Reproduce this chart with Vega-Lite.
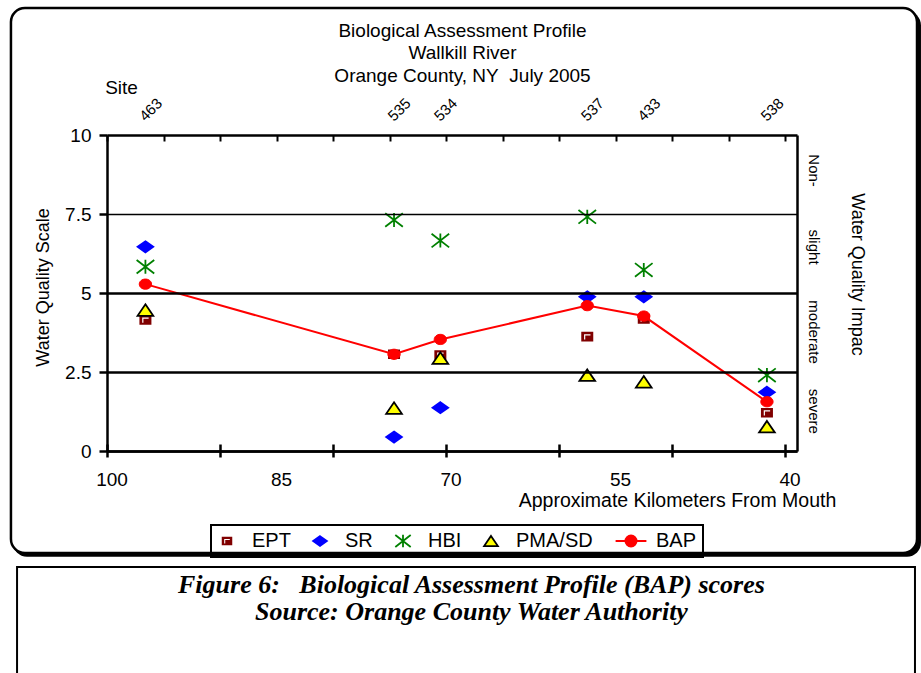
{
  "$schema": "https://vega.github.io/schema/vega-lite/v6.json",
  "width": 690,
  "height": 316,
  "autosize": {"type": "none"},
  "padding": {"left": 107, "top": 135, "right": 124, "bottom": 222},
  "background": "white",
  "config": {
    "font": "Liberation Sans",
    "view": {"stroke": null},
    "legend": {"strokeWidth": 2}
  },
  "datasets": {
    "sites": [
      {"site": "463", "km": 96.6, "EPT": 4.15, "SR": 6.46, "HBI": 5.83, "PMA/SD": 4.46, "BAP": 5.28},
      {"site": "535", "km": 74.6, "EPT": 3.06, "SR": 0.44, "HBI": 7.31, "PMA/SD": 1.36, "BAP": 3.06},
      {"site": "534", "km": 70.5, "EPT": 3.04, "SR": 1.37, "HBI": 6.66, "PMA/SD": 2.94, "BAP": 3.53},
      {"site": "537", "km": 57.5, "EPT": 3.62, "SR": 4.88, "HBI": 7.41, "PMA/SD": 2.40, "BAP": 4.60},
      {"site": "433", "km": 52.5, "EPT": 4.18, "SR": 4.88, "HBI": 5.73, "PMA/SD": 2.19, "BAP": 4.27},
      {"site": "538", "km": 41.6, "EPT": 1.21, "SR": 1.86, "HBI": 2.40, "PMA/SD": 0.77, "BAP": 1.56}
    ]
  },
  "resolve": {"axis": {"x": "independent", "y": "independent"}},
  "layer": [
    {
      "data": {"values": [{}]},
      "mark": {"type": "rect", "fill": "black", "cornerRadius": 14},
      "encoding": {
        "x": {"datum": 108.32, "type": "quantitative", "axis": null},
        "x2": {"datum": 27.97},
        "y": {"datum": 13.92, "type": "quantitative", "axis": null},
        "y2": {"datum": -3.35}
      }
    },
    {
      "data": {"values": [{}]},
      "mark": {"type": "rect", "fill": "white", "stroke": "black", "strokeWidth": 2.5, "cornerRadius": 14},
      "encoding": {
        "x": {"datum": 108.5, "type": "quantitative", "axis": null},
        "x2": {"datum": 28.32},
        "y": {"datum": 14.02, "type": "quantitative", "axis": null},
        "y2": {"datum": -3.23}
      }
    },
    {
      "data": {"values": [{}]},
      "mark": {"type": "rect", "fill": "white", "stroke": "black", "strokeWidth": 2},
      "encoding": {
        "x": {"datum": 107.96, "type": "quantitative", "axis": null},
        "x2": {"datum": 28.5},
        "y": {"datum": -3.67, "type": "quantitative", "axis": null},
        "y2": {"datum": -7.4}
      }
    },
    {
      "data": {"values": [{"t": "Biological Assessment Profile\nWallkill River\nOrange County, NY\u00a0 July 2005"}]},
      "mark": {"type": "text", "align": "center", "baseline": "alphabetic", "fontSize": 19, "lineHeight": 22.7, "lineBreak": "\n", "color": "black"},
      "encoding": {
        "x": {"datum": 68.54, "type": "quantitative", "axis": null},
        "y": {"datum": 13.11, "type": "quantitative", "axis": null},
        "text": {"field": "t"}
      }
    },
    {
      "data": {"values": [{"c": "Figure 6:\u00a0\u00a0 Biological Assessment Profile (BAP) scores\nSource: Orange County Water Authority"}]},
      "mark": {"type": "text", "align": "center", "baseline": "alphabetic", "font": "Liberation Serif", "fontSize": 26, "fontWeight": "bold", "fontStyle": "italic", "lineHeight": 27, "lineBreak": "\n", "color": "black"},
      "encoding": {
        "x": {"datum": 67.75, "type": "quantitative", "axis": null},
        "y": {"datum": -4.494, "type": "quantitative", "axis": null},
        "text": {"field": "c"}
      }
    },
    {
      "data": {"name": "sites"},
      "mark": {"type": "text", "align": "left", "baseline": "alphabetic", "angle": 315, "fontSize": 15, "color": "black"},
      "encoding": {
        "x": {
          "field": "km", "type": "quantitative",
          "axis": {
            "orient": "top", "values": [100, 95, 90, 85, 80, 75, 70, 65, 60, 55, 50, 45, 40],
            "labels": false, "domain": false, "grid": false, "ticks": true, "tickSize": 6, "tickWidth": 2, "tickColor": "black",
            "offset": -6, "zindex": 1,
            "title": "Site", "titleFont": "Liberation Sans", "titleFontSize": 19, "titleFontWeight": "normal", "titleColor": "black",
            "titleX": 14, "titleY": -54, "titleAlign": "center", "titleBaseline": "middle", "titleAngle": 0
          }
        },
        "y": {"datum": 10.41, "type": "quantitative", "axis": null},
        "text": {"field": "site"}
      }
    },
    {
      "data": {"name": "sites"},
      "transform": [{"fold": ["EPT", "SR", "HBI", "PMA/SD"], "as": ["metric", "value"]}],
      "mark": {"type": "point", "size": 256, "strokeWidth": 1.8, "opacity": 1},
      "encoding": {
        "x": {
          "field": "km", "type": "quantitative",
          "scale": {"domain": [38.94, 100], "reverse": true, "nice": false, "zero": false},
          "axis": {
            "orient": "bottom", "values": [100, 90, 80, 70, 60, 50, 40],
            "labels": false, "domain": false, "grid": false, "ticks": true, "tickSize": 13, "tickWidth": 2.5, "tickColor": "black",
            "offset": -7, "title": null, "zindex": 1
          }
        },
        "y": {
          "field": "value", "type": "quantitative",
          "scale": {"domain": [0, 10], "nice": false, "zero": false},
          "axis": {
            "orient": "left", "values": [0, 2.5, 5, 7.5, 10], "labelExpr": "'' + datum.value",
            "grid": true, "gridColor": "black", "gridOpacity": 1,
            "gridWidth": {"condition": {"test": "datum.value === 7.5", "value": 1.4}, "value": 2.5},
            "ticks": true, "tickSize": 8, "tickWidth": 2.5, "tickColor": "black",
            "domain": true, "domainColor": "black", "domainWidth": 2.5,
            "labelFont": "Liberation Sans", "labelFontSize": 19, "labelColor": "black", "labelPadding": 8, "labelFlush": false, "labelOverlap": false,
            "title": "Water Quality Scale", "titleFont": "Liberation Sans", "titleFontSize": 18, "titleFontWeight": "normal", "titleColor": "black",
            "titleX": -63.5, "titleY": 152, "titleAngle": -90, "titleAlign": "center", "titleBaseline": "middle",
            "zindex": 1
          }
        },
        "shape": {
          "field": "metric", "type": "nominal",
          "scale": {
            "domain": ["EPT", "SR", "HBI", "PMA/SD", "BAP"],
            "range": [
              "M-0.75,-0.6L0.75,-0.6L0.75,0.6L-0.75,0.6ZM-0.4,-0.3L-0.4,0.35L-0.25,0.35L-0.25,-0.15L0.4,-0.15L0.4,-0.3Z",
              "M0,-0.69L0.98,0L0,0.69L-0.98,0Z",
              "M0,-0.88L0,0.88M-1.1,-0.85L1.1,0.85M-1.1,0.85L1.1,-0.85",
              "M0,-0.72L0.98,0.72L-0.98,0.72Z",
              "M-2.2,0L2.2,0M0.8,0A0.8,0.8,0,1,1,-0.8,0A0.8,0.8,0,1,1,0.8,0Z"
            ]
          },
          "legend": {"orient": "none", "legendX": 104, "legendY": 390, "direction": "horizontal", "title": null, "strokeColor": "black", "padding": 6, "symbolSize": 196, "symbolStrokeWidth": 1.8, "labelFontSize": 20, "labelFont": "Liberation Sans", "labelColor": "black", "labelOffset": 15, "columnPadding": 18, "zindex": 1}
        },
        "fill": {
          "field": "metric", "type": "nominal",
          "scale": {"domain": ["EPT", "SR", "HBI", "PMA/SD", "BAP"], "range": ["#800000", "#0000ff", "transparent", "#ffff00", "#ff0000"]},
          "legend": {"orient": "none", "legendX": 104, "legendY": 390, "direction": "horizontal", "title": null, "strokeColor": "black", "padding": 6, "symbolSize": 196, "symbolStrokeWidth": 1.8, "labelFontSize": 20, "labelFont": "Liberation Sans", "labelColor": "black", "labelOffset": 15, "columnPadding": 18, "zindex": 1}
        },
        "stroke": {
          "field": "metric", "type": "nominal",
          "scale": {"domain": ["EPT", "SR", "HBI", "PMA/SD", "BAP"], "range": ["transparent", "#0000ff", "#008000", "#000000", "#ff0000"]},
          "legend": {"orient": "none", "legendX": 104, "legendY": 390, "direction": "horizontal", "title": null, "strokeColor": "black", "padding": 6, "symbolSize": 196, "symbolStrokeWidth": 1.8, "labelFontSize": 20, "labelFont": "Liberation Sans", "labelColor": "black", "labelOffset": 15, "columnPadding": 18, "zindex": 1}
        }
      }
    },
    {
      "data": {"name": "sites"},
      "mark": {"type": "line", "color": "#ff0000", "strokeWidth": 2},
      "encoding": {
        "x": {
          "field": "km", "type": "quantitative",
          "axis": {
            "orient": "bottom", "values": [100, 85, 70, 55, 40],
            "ticks": false, "tickSize": 0, "domain": true, "domainColor": "black", "domainWidth": 2.5, "grid": false,
            "labelFont": "Liberation Sans", "labelFontSize": 19, "labelColor": "black", "labelPadding": 19, "labelOffset": 4.5, "labelFlush": false, "labelOverlap": false, "labelBound": false,
            "title": "Approximate Kilometers From Mouth", "titleFont": "Liberation Sans", "titleFontSize": 19.5, "titleFontWeight": "normal", "titleColor": "black",
            "titleX": 570, "titleY": 40, "titleAlign": "center", "titleBaseline": "top", "titleAngle": 0,
            "zindex": 1
          }
        },
        "y": {
          "field": "BAP", "type": "quantitative",
          "axis": {
            "orient": "right", "values": [1.27, 3.78, 6.47, 8.89],
            "labelExpr": "datum.value < 2 ? 'severe' : datum.value < 5 ? 'moderate' : datum.value < 7 ? 'slight' : 'Non-'",
            "labelAngle": 90, "labelAlign": "center", "labelBaseline": "alphabetic", "labelPadding": 11,
            "labelFont": "Liberation Sans", "labelFontSize": 15, "labelColor": "black", "labelFlush": false, "labelOverlap": false,
            "ticks": false, "grid": false, "domain": true, "domainColor": "black", "domainWidth": 2.5,
            "title": "Water Quality Impac", "titleFont": "Liberation Sans", "titleFontSize": 18, "titleFontWeight": "normal", "titleColor": "black",
            "titleAngle": 90, "titleX": 59, "titleY": 139, "titleAlign": "center", "titleBaseline": "middle",
            "zindex": 1
          }
        }
      }
    },
    {
      "data": {"name": "sites"},
      "mark": {"type": "point", "shape": "M0.77,0A0.77,0.64,0,1,1,-0.77,0A0.77,0.64,0,1,1,0.77,0Z", "size": 256, "fill": "#ff0000", "stroke": "#ff0000", "strokeWidth": 1, "opacity": 1, "filled": true},
      "encoding": {
        "x": {"field": "km", "type": "quantitative", "axis": null},
        "y": {"field": "BAP", "type": "quantitative", "axis": null}
      }
    }
  ]
}
